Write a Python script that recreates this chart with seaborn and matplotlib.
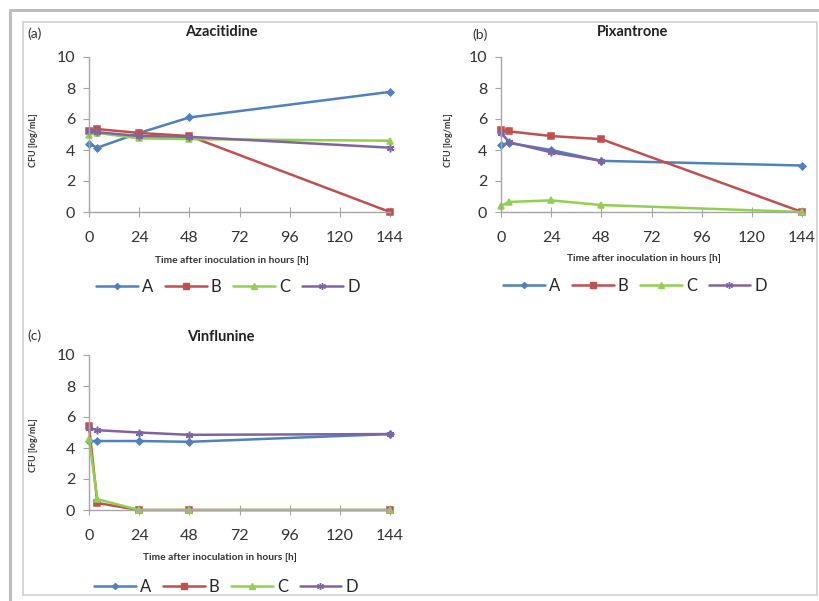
import numpy as np
import pandas as pd
import matplotlib
matplotlib.use("Agg")
import matplotlib.pyplot as plt
from matplotlib.lines import Line2D
from matplotlib.patches import Rectangle
import seaborn as sns

sns.set_style("ticks")
plt.rcParams['font.family'] = ['Lato', 'DejaVu Sans']

hours = [0, 4, 24, 48, 144]
series_names = ["A", "B", "C", "D"]
x_ticks = [0, 24, 48, 72, 96, 120, 144]
y_ticks = [0, 2, 4, 6, 8, 10]

aza_A = [4.4, 4.15, 5.1, 6.1, 7.75]
aza_B = [5.25, 5.35, 5.1, 4.9, 0.0]
aza_C = [5.0, 5.1, 4.75, 4.7, 4.6]
aza_D = [5.2, 5.15, 4.9, 4.85, 4.15]

pix_A = [4.35, 4.45, 4.0, 3.3, 3.0]
pix_B = [5.3, 5.2, 4.9, 4.7, 0.0]
pix_C = [0.4, 0.65, 0.75, 0.45, 0.0]
pix_D = [5.1, 4.5, 3.85, 3.3, np.nan]

vin_A = [4.45, 4.45, 4.45, 4.4, 4.9]
vin_B = [5.4, 0.45, 0.0, 0.0, 0.0]
vin_C = [4.6, 0.7, 0.0, 0.0, 0.0]
vin_D = [5.3, 5.15, 5.0, 4.85, 4.9]

titles = ["Azacitidine", "Pixantrone", "Vinflunine"]
panel_tags = ["(a)", "(b)", "(c)"]
panels = [
    [aza_A, aza_B, aza_C, aza_D],
    [pix_A, pix_B, pix_C, pix_D],
    [vin_A, vin_B, vin_C, vin_D],
]

colors = ["#4F81BD", "#C0504D", "#92D050", "#8064A2"]
markers = ["D", "s", "^", (6, 2, 0)]
msizes = [3.5, 4.5, 4.5, 5.5]

W, H = 819, 601
fig = plt.figure(figsize=(W / 100, H / 100), dpi=100)

# frames
fig.add_artist(Line2D([10 / W, 1.0], [1 - 10 / H, 1 - 10 / H], color="#bdbdbd", lw=2.2))
fig.add_artist(Line2D([10 / W, 10 / W], [0, 1 - 10 / H], color="#bdbdbd", lw=2.2))
fig.add_artist(Rectangle((23 / W, 1 - 595 / H), (817 - 23) / W, (595 - 22) / H,
                         fill=False, edgecolor="#d0d0d0", lw=1.2))

# axes boxes in pixels: (left, right, top, bottom)
boxes = [(89, 390, 57, 212), (501, 802, 57, 212), (89, 390, 355, 510)]
title_pos = [(221, 32), (633, 32), (221, 337)]
tag_pos = [(35, 34), (480, 35), (34, 336)]
ylab_pos = [(33, 140), (448, 140), (33, 445)]
xlab_pos = [(232, 260), (644, 258), (220, 557)]
leg_pos = [(228, 287), (635, 286), (226, 587)]

for i, (l, r, t, b) in enumerate(boxes):
    ax = fig.add_axes([l / W, 1 - b / H, (r - l) / W, (b - t) / H])
    for j, vals in enumerate(panels[i]):
        df = pd.DataFrame({"h": hours, "v": vals})
        sns.lineplot(data=df, x="h", y="v", ax=ax, color=colors[j], marker=markers[j],
                     markersize=msizes[j], markeredgecolor=colors[j], markeredgewidth=1.1,
                     linewidth=1.8, label=series_names[j], clip_on=False, legend=False)
    ax.set_xlim(0, 144)
    ax.set_ylim(0, 10)
    ax.set_xticks(x_ticks)
    ax.set_yticks(y_ticks)
    ax.set_xlabel("")
    ax.set_ylabel("")
    sns.despine(ax=ax)
    for s in ["left", "bottom"]:
        ax.spines[s].set_color("#a6a6a6")
        ax.spines[s].set_linewidth(1.0)
    ax.tick_params(axis="x", direction="inout", length=7, color="#a6a6a6", labelsize=11.5,
                   labelcolor="#333333", pad=10)
    ax.tick_params(axis="y", direction="out", length=4, color="#a6a6a6", labelsize=11.5,
                   labelcolor="#333333", pad=6)
    ax.patch.set_alpha(0)

    fig.text(title_pos[i][0] / W, 1 - title_pos[i][1] / H, titles[i], ha="center", va="center",
             fontsize=10.5, fontweight="bold", color="#222222")
    fig.text(tag_pos[i][0] / W, 1 - tag_pos[i][1] / H, panel_tags[i], ha="center", va="center",
             fontsize=10, color="#333333")
    fig.text(ylab_pos[i][0] / W, 1 - ylab_pos[i][1] / H, "CFU [log/mL]", ha="center", va="center",
             rotation=90, fontsize=6.5, fontweight="bold", color="#333333")
    fig.text(xlab_pos[i][0] / W, 1 - xlab_pos[i][1] / H, "Time after inoculation in hours [h]",
             ha="center", va="center", fontsize=7.3, fontweight="bold", color="#333333")

    handles = [Line2D([], [], color=colors[j], marker=markers[j], markersize=msizes[j] - 0.5,
                      markeredgecolor=colors[j], lw=1.8) for j in range(4)]
    fig.legend(handles, series_names, loc="center",
               bbox_to_anchor=(leg_pos[i][0] / W, 1 - leg_pos[i][1] / H),
               ncol=4, frameon=False, fontsize=12, handlelength=2.5, handletextpad=0.25,
               columnspacing=0.7, borderaxespad=0, borderpad=0)

fig.savefig("out.png", dpi=100)
